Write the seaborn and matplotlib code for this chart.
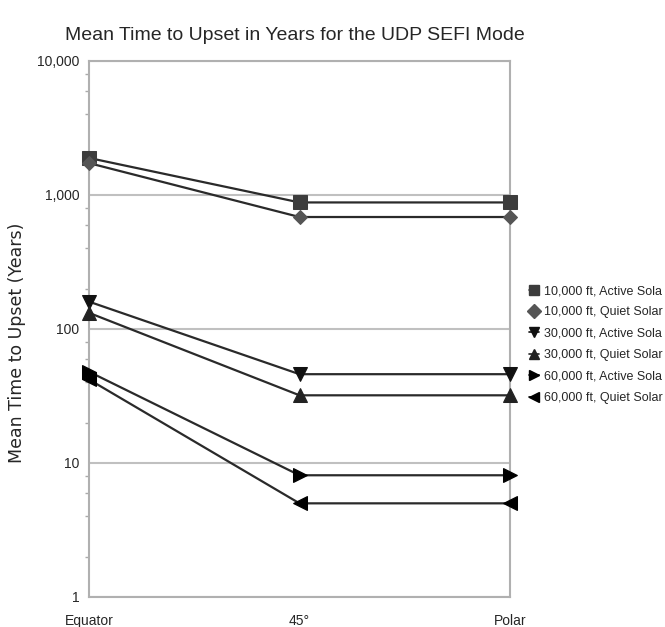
import matplotlib
matplotlib.use("Agg")
import matplotlib.pyplot as plt
import matplotlib.ticker as mticker
import seaborn as sns
import pandas as pd
import numpy as np

latitudes = ["Equator", "45°", "Polar"]
series_names = [
    "10,000 ft, Active Solar",
    "10,000 ft, Quiet Solar",
    "30,000 ft, Active Solar",
    "30,000 ft, Quiet Solar",
    "60,000 ft, Active Solar",
    "60,000 ft, Quiet Solar",
]
alt10k_active = [1890, 880, 880]
alt10k_quiet = [1730, 685, 685]
alt30k_active = [160, 46, 46]
alt30k_quiet = [132, 32, 32]
alt60k_active = [48, 8.1, 8.1]
alt60k_quiet = [42, 5.0, 5.0]
all_values = [alt10k_active, alt10k_quiet, alt30k_active, alt30k_quiet,
              alt60k_active, alt60k_quiet]
legend_labels = [
    "10,000 ft, Active Sola",
    "10,000 ft, Quiet Solar",
    "30,000 ft, Active Sola",
    "30,000 ft, Quiet Solar",
    "60,000 ft, Active Sola",
    "60,000 ft, Quiet Solar",
]

rows = []
for name, vals in zip(series_names, all_values):
    for i, v in enumerate(vals):
        rows.append({"series": name, "pos": i, "value": v})
df = pd.DataFrame(rows)

sns.set_theme(style="white")
plt.rcParams["font.family"] = ["Liberation Sans", "DejaVu Sans"]

fig = plt.figure(figsize=(6.65, 6.27), dpi=100)
ax = fig.add_axes([89 / 665, 1 - 597 / 627, (510 - 89) / 665, (597 - 61) / 627])

markers = {series_names[0]: "s", series_names[1]: "D", series_names[2]: "v",
           series_names[3]: "^", series_names[4]: ">", series_names[5]: "<"}
palette = {n: "#2a2a2a" for n in series_names}
sns.lineplot(data=df, x="pos", y="value", hue="series", style="series",
             markers=markers, dashes=False, palette=palette, ax=ax,
             linewidth=1.6, legend=False, zorder=3)

marker_colors = ["#3c3c3c", "#555555", "#111111", "#222222", "#000000", "#000000"]
marker_sizes = [10, 7, 10, 10, 10, 10]
for line, mc, ms in zip(ax.get_lines(), marker_colors, marker_sizes):
    line.set_markerfacecolor(mc)
    line.set_markeredgecolor(mc)
    line.set_markersize(ms)
    line.set_clip_on(False)

ax.set_yscale("log")
ax.set_ylim(1, 10000)
ax.set_xlim(0, 2)
ax.set_xticks([0, 1, 2])
ax.set_xticklabels(latitudes, fontsize=10)
ax.yaxis.set_major_locator(mticker.FixedLocator([1, 10, 100, 1000, 10000]))
ax.yaxis.set_major_formatter(mticker.FixedFormatter(["1", "10", "100", "1,000", "10,000"]))
ax.yaxis.set_minor_locator(mticker.LogLocator(base=10, subs=(2, 4, 6, 8)))
ax.yaxis.set_minor_formatter(mticker.NullFormatter())
ax.tick_params(axis="y", which="major", length=5, color="#aaaaaa", labelsize=10, width=1, pad=2)
ax.tick_params(axis="y", which="minor", length=3, color="#aaaaaa", width=1, left=True)
ax.tick_params(axis="x", which="major", length=8, color="#aaaaaa", labelsize=10, pad=4, width=1)

ax.grid(True, axis="y", which="major", color="#c0c0c0", linewidth=1.5)
ax.grid(False, axis="x")
for s in ["left", "right", "top", "bottom"]:
    ax.spines[s].set_color("#b0b0b0")
    ax.spines[s].set_linewidth(1.5)

ax.set_xlabel("")
ax.set_ylabel("Mean Time to Upset (Years)", fontsize=12.5, family="DejaVu Sans")
ax.yaxis.set_label_coords(-(89 - 26) / 421, 0.475)

fig.text(295 / 665, 1 - 35 / 627, "Mean Time to Upset in Years for the UDP SEFI Mode",
         ha="center", va="center", fontsize=14)

handles = []
for name, mc in zip(series_names, marker_colors):
    h = plt.Line2D([], [], color=mc, marker=markers[name], linestyle="-",
                   linewidth=1.2, markersize=7)
    handles.append(h)
leg = fig.legend(handles, legend_labels, loc="upper left",
                 bbox_to_anchor=(524 / 665, 1 - 280 / 627), frameon=False,
                 fontsize=9, handlelength=0.8, handletextpad=0.4,
                 labelspacing=0.75, borderaxespad=0)

fig.savefig("out.png", dpi=100)
